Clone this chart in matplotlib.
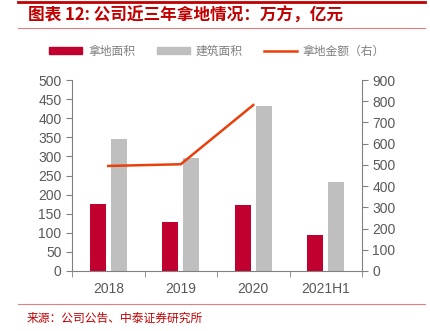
import numpy as np
import matplotlib.pyplot as plt
from matplotlib.lines import Line2D
from matplotlib.patches import Patch

plt.rcParams['font.family'] = ['Noto Sans CJK SC', 'DejaVu Sans']

# 数据
years = ["2018", "2019", "2020", "2021H1"]
land_area = [175, 127, 172, 95]          # 拿地面积（万方）
build_area = [346, 296, 432, 233]        # 建筑面积（万方）
land_amount = [495, 503, 782]            # 拿地金额（亿元，右轴）

red = "#C0002F"
gray = "#BFBFBF"
orange = "#E8400C"
txt = "#595959"

fig = plt.figure(figsize=(4.3, 3.31), dpi=100)
ax = fig.add_axes([72 / 430, 1 - 271 / 331, 290 / 430, 191 / 331])
ax2 = ax.twinx()

x = np.arange(len(years))
w = 0.22
ax.bar(x - 0.142, land_area, w, color=red, zorder=2)
ax.bar(x + 0.142, build_area, w, color=gray, zorder=2)
ax2.plot(x[:len(land_amount)], land_amount, color=orange, lw=1.8)

ax.set_xlim(-0.5, len(years) - 0.5)
ax.set_ylim(0, 500)
ax2.set_ylim(0, 900)
ax.set_yticks(np.arange(0, 501, 50))
ax2.set_yticks(np.arange(0, 901, 100))
ax.set_xticks(x)
ax.set_xticklabels(years)
ax.set_xticks(np.arange(-0.5, len(years), 1), minor=True)
ax.tick_params(axis="x", which="major", length=0, pad=8)
ax.tick_params(axis="x", which="minor", length=4, color="#808080")
ax.tick_params(axis="y", length=4, color="#808080")
ax2.tick_params(axis="y", length=4, color="#808080")
for lab in ax.get_xticklabels() + ax.get_yticklabels() + ax2.get_yticklabels():
    lab.set_fontfamily(["Liberation Sans", "DejaVu Sans"])
    lab.set_fontsize(10)
    lab.set_color(txt)

for a in (ax, ax2):
    a.spines["top"].set_visible(False)
    for s in ("left", "right", "bottom"):
        a.spines[s].set_color("#808080")
ax.spines["right"].set_visible(False)
ax2.spines["left"].set_visible(False)
ax2.spines["bottom"].set_visible(False)

# 图例
handles = [Patch(color=red), Patch(color=gray), Line2D([], [], color=orange, lw=1.8)]
fig.legend(handles, ["拿地面积", "建筑面积", "拿地金额（右）"], loc="center",
           bbox_to_anchor=(0.505, 1 - 51 / 331), ncol=3, frameon=False,
           fontsize=8.5, labelcolor="#7F7F7F", handlelength=2.8, handleheight=0.6,
           columnspacing=1.8, handletextpad=0.5)

# 标题和来源
fig.add_artist(Line2D([18 / 430, 425 / 430], [1 - 2 / 331] * 2, color="#C00000", lw=2))
fig.text(28 / 430, 1 - 16 / 331, "图表 12: 公司近三年拿地情况：万方，亿元", color="#C00000",
         fontsize=12, fontweight="bold", style="italic", va="center")
fig.add_artist(Line2D([18 / 430, 425 / 430], [1 - 28 / 331] * 2, color="#E08080", lw=0.8))
fig.add_artist(Line2D([18 / 430, 425 / 430], [1 - 304 / 331] * 2, color="#E08080", lw=0.8))
fig.text(27 / 430, 1 - 318 / 331, "来源：公司公告、中泰证券研究所", color="#C00000",
         fontsize=8.5, va="center")

fig.savefig("out.png", dpi=100)
